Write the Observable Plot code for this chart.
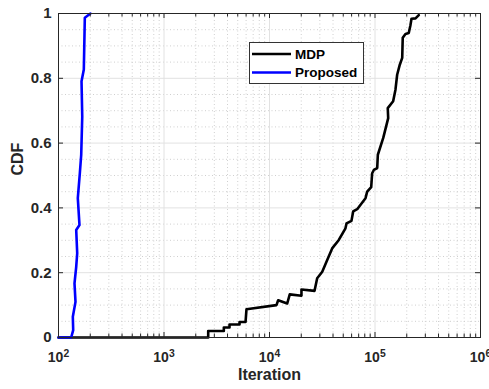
<!DOCTYPE html>
<html><head><meta charset="utf-8">
<script src="https://cdn.jsdelivr.net/npm/d3@7"></script>
<script src="https://cdn.jsdelivr.net/npm/@observablehq/plot@0.6"></script>
<style>body{margin:0;background:#fff} svg{display:block}</style>
</head><body><div id="chart"></div>
<script>
// MDP empirical CDF (iteration, cdf)
const mdpIter = [100, 2624, 2624, 3690, 3690, 4178, 4178, 5200, 5200, 5930, 6050, 11640, 12080, 14720, 15560, 20090, 20090, 26730, 28310, 31620, 35240, 39260, 45390, 52480, 53700, 59840, 62090, 67760, 81280, 84330, 92040, 93970, 97500, 104950, 106400, 119700, 133400, 132100, 148600, 156300, 162200, 171800, 181100, 183200, 194500, 208900, 216800, 221800, 242100, 260000];
const mdpCdf  = [0, 0, 0.02, 0.02, 0.031, 0.031, 0.04, 0.04, 0.048, 0.048, 0.087, 0.10, 0.115, 0.105, 0.133, 0.129, 0.148, 0.144, 0.183, 0.203, 0.239, 0.275, 0.301, 0.337, 0.352, 0.36, 0.389, 0.396, 0.43, 0.45, 0.464, 0.507, 0.517, 0.523, 0.564, 0.616, 0.677, 0.708, 0.729, 0.765, 0.811, 0.842, 0.863, 0.925, 0.937, 0.94, 0.964, 0.984, 0.985, 0.995];
// Proposed empirical CDF
const propIter = [100, 131.9, 137.8, 136.7, 144.9, 141.8, 147.2, 150.4, 147.2, 158.1, 152.4, 159.3, 164.2, 167.9, 165.3, 173.8, 177.6, 200.9];
const propCdf  = [0, 0, 0.023, 0.064, 0.11, 0.167, 0.218, 0.26, 0.332, 0.347, 0.43, 0.507, 0.564, 0.682, 0.791, 0.827, 0.987, 1.0];

const seriesNames = ["MDP", "Proposed"];
const seriesColors = ["#000000", "#0000ff"];
const xMajor = [1e2, 1e3, 1e4, 1e5, 1e6];
const xMinor = [2,3,4,5,6,7,8,9].flatMap(m => [1e2,1e3,1e4,1e5].map(p => m*p));
const yMajor = [0, 0.2, 0.4, 0.6, 0.8, 1];
const yMinor = d3.range(1, 20).map(i => i*0.05).filter(v => Math.abs(v*5 - Math.round(v*5)) > 1e-6);
const xLabel = "Iteration", yLabel = "CDF";

const mdp = mdpIter.map((x, i) => ({x, y: mdpCdf[i]}));
const prop = propIter.map((x, i) => ({x, y: propCdf[i]}));

const W = 489, H = 389, mT = 13, mB = 52, mL = 58, mR = 9;
const pH = H - mT - mB, pW = W - mL - mR;
const font = "'Liberation Sans', Arial, Helvetica, sans-serif";

const chart = Plot.plot({
  width: W, height: H, marginLeft: mL, marginRight: mR, marginTop: mT, marginBottom: mB,
  x: {type: "log", domain: [1e2, 1e6]},
  y: {domain: [0, 1]},
  style: {fontFamily: font, fontSize: "13px", fontWeight: "bold", color: "#262626", background: "#fff", overflow: "hidden"},
  marks: [
    Plot.ruleX(xMinor, {stroke: "#cfcfcf", strokeDasharray: "1,2.5"}),
    Plot.ruleY(yMinor, {stroke: "#cfcfcf", strokeDasharray: "1,2.5"}),
    Plot.ruleX(xMajor, {stroke: "#e2e2e2"}),
    Plot.ruleY(yMajor, {stroke: "#e2e2e2"}),
    Plot.line(mdp, {x: "x", y: "y", stroke: seriesColors[0], strokeWidth: 2.6}),
    Plot.line(prop, {x: "x", y: "y", stroke: seriesColors[1], strokeWidth: 2.6}),
    Plot.frame({stroke: "#262626"}),
    Plot.tickX(xMajor, {x: d => d, insetTop: pH - 5, stroke: "#262626"}),
    Plot.tickX(xMajor, {x: d => d, insetBottom: pH - 5, stroke: "#262626"}),
    Plot.tickX(xMinor, {x: d => d, insetTop: pH - 3.5, stroke: "#262626"}),
    Plot.tickX(xMinor, {x: d => d, insetBottom: pH - 3.5, stroke: "#262626"}),
    Plot.tickY(yMajor, {y: d => d, insetRight: pW - 5, stroke: "#262626"}),
    Plot.tickY(yMajor, {y: d => d, insetLeft: pW - 5, stroke: "#262626"}),
    Plot.axisX(xMajor, {tickSize: 0, tickPadding: 15, tickFormat: d => "10^" + Math.round(Math.log10(d)), label: null, fontSize: 14}),
    Plot.axisY(yMajor, {tickSize: 0, tickPadding: 7, tickFormat: d => (d === 0 || d === 1) ? String(d) : d.toFixed(1), label: null, fontSize: 15}),
    Plot.text([xLabel], {frameAnchor: "bottom", dy: 42, fontSize: 16, fontWeight: "bold", fill: "#262626"}),
    Plot.text([yLabel], {frameAnchor: "left", dx: -41, rotate: -90, fontSize: 16, fontWeight: "bold", fill: "#262626"})
  ]
});

// superscript exponents on x tick labels
d3.select(chart).selectAll('g[aria-label="x-axis tick label"] text').each(function() {
  const t = this.textContent;
  const [base, exp] = t.split("^");
  const sel = d3.select(this);
  sel.text(null);
  sel.append("tspan").text(base);
  sel.append("tspan").attr("dy", "-0.5em").attr("font-size", "0.74em").text(exp);
});

// legend box (inside the axes, like MATLAB)
const svg = d3.select(chart);
const lg = svg.append("g").attr("font-family", font).attr("font-weight", "bold").attr("font-size", 13.5).attr("text-anchor", "start");
lg.append("rect").attr("x", 249.5).attr("y", 42.5).attr("width", 114).attr("height", 41)
  .attr("fill", "#fff").attr("stroke", "#333").attr("stroke-width", 1);
seriesNames.forEach((name, i) => {
  const yy = 54 + i * 18.5;
  lg.append("line").attr("x1", 252).attr("x2", 291).attr("y1", yy).attr("y2", yy)
    .attr("stroke", seriesColors[i]).attr("stroke-width", 2.6);
  lg.append("text").attr("x", 295).attr("y", yy).attr("dy", "0.35em").attr("fill", "#000").attr("text-anchor", "start").text(name);
});

document.getElementById("chart").appendChild(chart);
</script>
</body></html>
